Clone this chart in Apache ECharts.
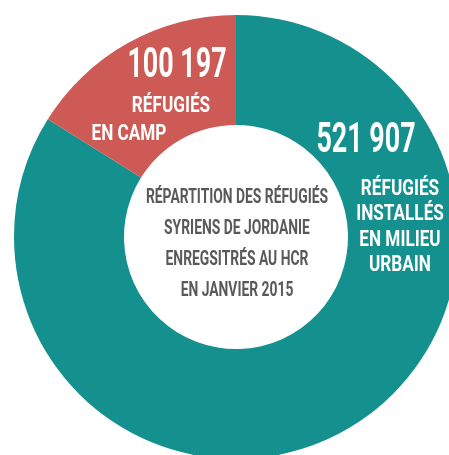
<!DOCTYPE html>
<html>
<head>
<meta charset="utf-8">
<script src="https://cdn.jsdelivr.net/npm/echarts@6/dist/echarts.min.js"></script>
<style>
  html, body { margin: 0; padding: 0; background: #ffffff; }
  #chart { width: 449px; height: 455px; }
</style>
</head>
<body>
<div id="chart"></div>
<script>
// Syrian refugees registered with UNHCR in Jordan, January 2015
const categories = ['Réfugiés installés en milieu urbain', 'Réfugiés en camp'];
const refugees = [521907, 100197];
const urbanLines = ['RÉFUGIÉS', 'INSTALLÉS', 'EN MILIEU', 'URBAIN'];
const campLines = ['RÉFUGIÉS', 'EN CAMP'];
const centerLines = ['RÉPARTITION DES RÉFUGIÉS', 'SYRIENS DE JORDANIE', 'ENREGSITRÉS AU HCR', 'EN JANVIER 2015'];

const TEAL = '#14908e';
const RED = '#cd5a55';
const GREY = '#595959';
const FONT = 'Roboto, "Liberation Sans", sans-serif';

function fmt(v) {
  return String(v).replace(/\B(?=(\d{3})+(?!\d))/g, ' ');
}

// condensed bold text block, drawn above the ring
function txt(str, x, y, size, sx, color) {
  return {
    type: 'text', x: x, y: y, scaleX: sx, z: 100, silent: true,
    style: {
      text: str, fill: color, textAlign: 'center', textVerticalAlign: 'middle',
      font: 'bold ' + size + 'px ' + FONT
    }
  };
}

const graphics = [];
graphics.push(txt(fmt(refugees[1]), 177, 66, 42, 0.64, '#ffffff'));
graphics.push(txt(campLines[0], 171, 106, 22, 0.78, '#ffffff'));
graphics.push(txt(campLines[1], 129, 134, 22, 0.78, '#ffffff'));

graphics.push(txt(fmt(refugees[0]), 366, 141, 42, 0.64, '#ffffff'));
urbanLines.forEach(function (s, i) {
  graphics.push(txt(s, 400, 189 + i * 25.5, 22, 0.78, '#ffffff'));
});
centerLines.forEach(function (s, i) {
  graphics.push(txt(s, 237, 198 + i * 31, 21, 0.66, GREY));
});

const chart = echarts.init(document.getElementById('chart'), null, { renderer: 'canvas' });
chart.setOption({
  animation: false,
  backgroundColor: '#ffffff',
  series: [{
    type: 'pie',
    silent: true,
    z: 1,
    center: [236, 237],
    radius: [112, 222],
    startAngle: 90,
    clockwise: true,
    label: { show: false },
    labelLine: { show: false },
    itemStyle: { borderWidth: 0 },
    data: categories.map(function (c, i) {
      return { name: c, value: refugees[i], itemStyle: { color: i === 0 ? TEAL : RED } };
    })
  }],
  graphic: { elements: graphics }
});
</script>
</body>
</html>
